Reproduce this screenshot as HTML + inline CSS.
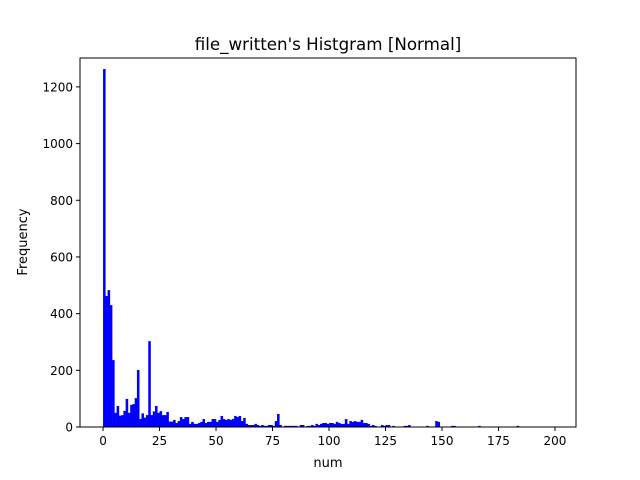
<!DOCTYPE html>
<html><head><meta charset="utf-8"><style>
body{margin:0;background:#fff}
svg{display:block;font-family:"DejaVu Sans","Liberation Sans",sans-serif}
</style></head><body>
<svg id="chart" width="640" height="480">
<rect width="640" height="480" fill="#fff"/>
<text x="328" y="50" text-anchor="middle" font-size="16.7">file_written's Histgram [Normal]</text>
<g id="bars"></g>
<g id="axes"></g>
<text x="328" y="467" text-anchor="middle" font-size="13">num</text>
<text x="27" y="242" text-anchor="middle" font-size="13" transform="rotate(-90 27 242)">Frequency</text>
</svg>
<script>
const counts = [1263,462,483,430,236,50,74,40,42,57,99,50,78,81,102,201,28,48,33,42,303,42,55,74,50,
56,42,42,53,19,19,25,14,21,35,28,35,35,11,18,11,11,14,18,28,14,18,18,28,28,18,25,39,28,25,28,25,28,39,35,39,21,32,11,7,7,7,11,7,4,7,4,4,7,7,4,21,46,7,0,
4,4,4,4,4,4,0,7,7,0,4,4,7,4,11,7,11,14,14,11,14,14,11,18,14,11,11,28,11,21,18,21,18,18,25,14,14,11,4,7,4,0,0,7,4,7,7,0,4,0,0,0,0,4,4,7,0,0,0,0,0,
0,0,4,0,0,0,21,18,0,0,0,0,0,4,4,0,0,0,0,0,0,0,0,0,0,4,0,0,0,0,0,0,0,0,0,0,0,0,0,0,0,0,4,0,0,0,0,0,0,0,0,0,0,0,0,0,0,0];
const binStart = 0;
const binWidth = 1;
const xTicks = [0,25,50,75,100,125,150,175,200];
const yTicks = [0,200,400,600,800,1000,1200];

const L=80,R=576,T=58,B=427;
const xMin=-10.2,xMax=209.3,yMax=1302;
const sx=v=>L+(v-xMin)/(xMax-xMin)*(R-L);
const sy=v=>B-v/yMax*(B-T);
const NS="http://www.w3.org/2000/svg";
const bars=document.getElementById('bars');
counts.forEach((c,i)=>{
  if(c<=0) return;
  const r=document.createElementNS(NS,'rect');
  const x0=sx(binStart+i*binWidth), x1=sx(binStart+(i+1)*binWidth);
  r.setAttribute('x',x0);r.setAttribute('width',x1-x0+0.3);
  r.setAttribute('y',sy(c));r.setAttribute('height',B-sy(c));
  r.setAttribute('fill','#0000ff');
  
  
  bars.appendChild(r);
});
const ax=document.getElementById('axes');
const fr=document.createElementNS(NS,'rect');
fr.setAttribute('x',L);fr.setAttribute('y',T);fr.setAttribute('width',R-L);fr.setAttribute('height',B-T);
fr.setAttribute('fill','none');fr.setAttribute('stroke','#000');fr.setAttribute('stroke-width','1');


ax.appendChild(fr);
xTicks.forEach(t=>{
  const x=sx(t);
  const l=document.createElementNS(NS,'line');
  l.setAttribute('x1',x);l.setAttribute('x2',x);l.setAttribute('y1',B);l.setAttribute('y2',B+4);l.setAttribute('stroke','#000');
  
  
  ax.appendChild(l);
  const tx=document.createElementNS(NS,'text');
  tx.setAttribute('x',x);tx.setAttribute('y',B+18);tx.setAttribute('text-anchor','middle');tx.setAttribute('font-size','12');
  tx.textContent=t;
  
  
  ax.appendChild(tx);
});
yTicks.forEach(t=>{
  const y=sy(t);
  const l=document.createElementNS(NS,'line');
  l.setAttribute('x1',L-4);l.setAttribute('x2',L);l.setAttribute('y1',y);l.setAttribute('y2',y);l.setAttribute('stroke','#000');
  
  
  ax.appendChild(l);
  const tx=document.createElementNS(NS,'text');
  tx.setAttribute('x',L-7);tx.setAttribute('y',y+4.5);tx.setAttribute('text-anchor','end');tx.setAttribute('font-size','12');
  tx.textContent=t;
  
  
  ax.appendChild(tx);
});
</script>
</body></html>
